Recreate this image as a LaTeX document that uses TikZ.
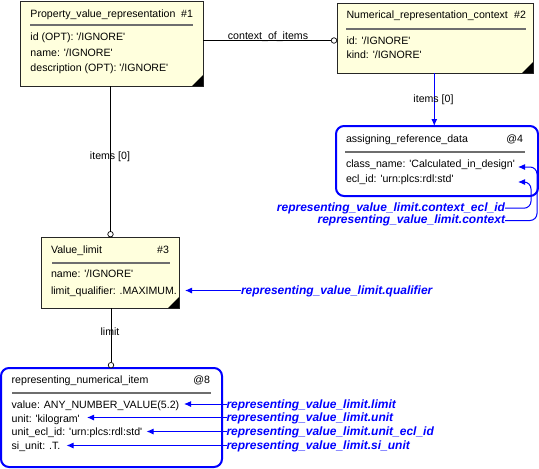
\documentclass[tikz,border=0pt]{standalone}
\usepackage{fontspec}
\setmainfont{Liberation Sans}
\usetikzlibrary{arrows.meta}
\definecolor{boxyellow}{RGB}{255,255,221}
\definecolor{myblue}{RGB}{0,0,255}
\definecolor{sepgray}{RGB}{110,110,110}
\newcommand{\myq}{\textquotesingle}
\begin{document}
\begin{tikzpicture}[x=1pt,y=-1pt,
  ybox/.style={draw=black!85, line width=0.8pt, fill=boxyellow, inner sep=0, outer sep=0, anchor=north west},
  bbox/.style={draw=myblue, line width=2pt, fill=white, rounded corners=8pt, inner sep=0, outer sep=0, anchor=north west},
  txt/.style={inner sep=0, outer sep=0, font=\fontsize{10.6}{12}\selectfont, text height=7.6pt, text depth=0pt, anchor=west},
  rtxt/.style={txt, anchor=east},
  blab/.style={inner sep=0, outer sep=0, font=\fontsize{12}{14}\selectfont\bfseries\itshape, text=myblue, text height=8.6pt, text depth=0pt},
  sepline/.style={draw=sepgray, line width=1.5pt},
  rel/.style={draw=black, line width=0.8pt},
  ring/.style={circle, draw=black, fill=white, line width=0.7pt, inner sep=0, minimum size=5.5pt},
  barrow/.style={draw=myblue, line width=1pt, -{Latex[length=7pt,width=6pt]}},
  clab/.style={txt, anchor=center},
  corner/.style={fill=black},
]
\useasboundingbox (0,0) rectangle (539,469);

% boxes
\node[ybox, minimum width=183pt, minimum height=85pt] (b1) at (20,1) {};
\node[ybox, minimum width=196pt, minimum height=70pt] (b2) at (337,3) {};
\node[bbox, minimum width=202pt, minimum height=70pt] (b4) at (336,126) {};
\node[ybox, minimum width=138pt, minimum height=71pt] (b3) at (41,237) {};
\node[bbox, minimum width=221pt, minimum height=99pt] (b8) at (1,368) {};

% corner triangles
\fill[corner] (b1.south east) -- ++(-11,0) -- ++(11,-11) -- cycle;
\fill[corner] (b2.south east) -- ++(-11,0) -- ++(11,-11) -- cycle;
\fill[corner] (b3.south east) -- ++(-11,0) -- ++(11,-11) -- cycle;

% separators
\draw[sepline] (30,25) -- (193,25);
\draw[sepline] (346,29) -- (526,29);
\draw[sepline] (345,152) -- (525,152);
\draw[sepline] (52,263) -- (170,263);
\draw[sepline] (12,393) -- (211,393);

% box 1
\node[txt] (t1) at (30.5,13.3) {Property\_value\_representation};
\node[rtxt] (n1) at (193,13.3) {\#1};
\node[txt] (a11) at (30.5,36.7) {id (OPT): \myq/IGNORE\myq};
\node[txt] (a12) at (30.5,52.3) {name: \myq/IGNORE\myq};
\node[txt] (a13) at (30.5,67.7) {description (OPT): \myq/IGNORE\myq};

% box 2
\node[txt] (t2) at (346.5,15) {Numerical\_representation\_context};
\node[rtxt] (n2) at (526,15) {\#2};
\node[txt] (a21) at (346.5,40.7) {id: \myq/IGNORE\myq};
\node[txt] (a22) at (346.5,55) {kind: \myq/IGNORE\myq};

% box 4
\node[txt] (t4) at (346,138.3) {assigning\_reference\_data};
\node[rtxt] (n4) at (523,138.3) {@4};
\node[txt] (a41) at (346,163.3) {class\_name: \myq Calculated\_in\_design\myq};
\node[txt] (a42) at (346,178.3) {ecl\_id: \myq urn:plcs:rdl:std\myq};

% box 3
\node[txt] (t3) at (51,249.3) {Value\_limit};
\node[rtxt] (n3) at (169,249.3) {\#3};
\node[txt] (a31) at (51,274) {name: \myq/IGNORE\myq};
\node[txt] (a32) at (51,290.7) {limit\_qualifier: .MAXIMUM.};

% box 8
\node[txt] (t8) at (11.7,379.3) {representing\_numerical\_item};
\node[rtxt] (n8) at (210,379.3) {@8};
\node[txt] (a81) at (11.7,405) {value: ANY\_NUMBER\_VALUE(5.2)};
\node[txt] (a82) at (11.7,418.3) {unit: \myq kilogram\myq};
\node[txt] (a83) at (11.7,431.7) {unit\_ecl\_id: \myq urn:plcs:rdl:std\myq};
\node[txt] (a84) at (11.7,446) {si\_unit: .T.};

% relationships
\node[ring] (r12) at (334,40.5) {};
\draw[rel] (b1.east |- r12) -- (r12.west);
\node[clab] (lctx) at (268,36) {context\_of\_items};

\node[ring] (r13) at (110.5,234.2) {};
\draw[rel] (r13 |- b1.south) -- (r13.north);
\node[clab] (litems1) at (110,156) {items [0]};

\node[ring] (r38) at (111,365.2) {};
\draw[rel] (r38 |- b3.south) -- (r38.north);
\node[clab] (llimit) at (110,331.5) {limit};

\coordinate (p2) at (434.3,73);
\draw[barrow] (p2) -- (p2 |- b4.north);
\node[clab] (litems2) at (433.5,98.3) {items [0]};

% blue mapping labels
\node[blab, anchor=east] (lecl) at (505,206.7) {representing\_value\_limit.context\_ecl\_id};
\node[blab, anchor=east] (lcon) at (505,219.3) {representing\_value\_limit.context};
\coordinate (te1) at (518,167);
\coordinate (te2) at (518,182);
\draw[barrow, rounded corners=7pt] ([yshift=-1.5pt]lecl.east) -- (531,208.2) -- (531,182) -- (te2);
\draw[barrow, rounded corners=7pt] ([yshift=-1.2pt]lcon.east) -- (537,220.5) -- (537,167) -- (te1);

\node[blab, anchor=west] (lq) at (241,290.5) {representing\_value\_limit.qualifier};
\coordinate (tq) at (185,290.5);
\draw[barrow] (lq.west) -- (tq);

\node[blab, anchor=west] (ll1) at (226.5,404) {representing\_value\_limit.limit};
\node[blab, anchor=west] (ll2) at (226.5,417.5) {representing\_value\_limit.unit};
\node[blab, anchor=west] (ll3) at (226.5,431.5) {representing\_value\_limit.unit\_ecl\_id};
\node[blab, anchor=west] (ll4) at (226.5,445.5) {representing\_value\_limit.si\_unit};
\coordinate (tl1) at (184,404);
\coordinate (tl2) at (87,417.5);
\coordinate (tl3) at (146.5,431.5);
\coordinate (tl4) at (66.5,445.5);
\draw[barrow] (ll1.west) -- (tl1);
\draw[barrow] (ll2.west) -- (tl2);
\draw[barrow] (ll3.west) -- (tl3);
\draw[barrow] (ll4.west) -- (tl4);
\end{tikzpicture}
\end{document}
